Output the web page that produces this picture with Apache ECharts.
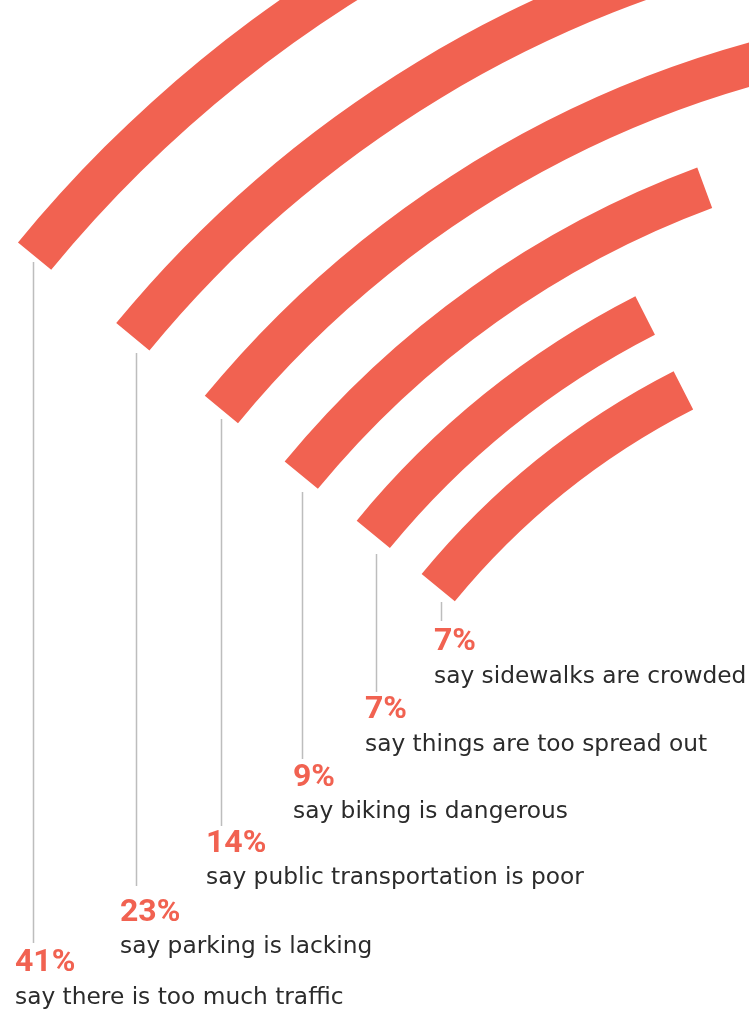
<!DOCTYPE html>
<html>
<head>
<meta charset="utf-8">
<script src="https://cdn.jsdelivr.net/npm/echarts@6/dist/echarts.min.js"></script>
<style>
  html, body { margin: 0; padding: 0; background: #fff; }
  #chart { width: 749px; height: 1011px; }
</style>
</head>
<body>
<div id="chart"></div>
<script>
// data, outer ring first
const categories = [
  'say there is too much traffic',
  'say parking is lacking',
  'say public transportation is poor',
  'say biking is dangerous',
  'say things are too spread out',
  'say sidewalks are crowded'
]
const values = [41, 23, 14, 9, 7, 7]

// layout
const RED = '#f16251'
const CENTER = [1034, 1077]
const START_ANGLE = 140.6
const ANGLE_MAX = 107
const INNER_R = 771
const RING_RATIO = 1.109
const BAND = 43

// label placement
const labelX = [15, 120, 206, 293, 365, 434]
const pctY = [963, 913, 844, 778, 710, 642]
const descY = [998, 947, 878, 812, 745, 677]
const leaderX = [33.5, 136.5, 221.5, 302.5, 376.5, 441.5]
const leaderTop = [262, 353, 419, 492, 554, 602]
const leaderBottom = [943, 886, 826, 759, 692, 621]

const n = values.length
const ringR = i => INNER_R * Math.pow(RING_RATIO, n - 1 - i)

const myChart = echarts.init(document.getElementById('chart'))

const option = {
  animation: false,
  backgroundColor: '#fff',
  polar: categories.map((c, i) => ({
    center: CENTER,
    radius: [ringR(i) - BAND / 2, ringR(i) + BAND / 2]
  })),
  angleAxis: categories.map((c, i) => ({
    polarIndex: i,
    type: 'value',
    min: 0,
    max: ANGLE_MAX,
    startAngle: START_ANGLE,
    clockwise: true,
    show: false,
    axisLine: { show: false },
    axisTick: { show: false },
    axisLabel: { show: false },
    splitLine: { show: false }
  })),
  radiusAxis: categories.map((c, i) => ({
    polarIndex: i,
    type: 'category',
    data: [c],
    show: false,
    axisLine: { show: false },
    axisTick: { show: false },
    axisLabel: { show: false },
    splitLine: { show: false }
  })),
  series: categories.map((c, i) => ({
    name: c,
    type: 'bar',
    coordinateSystem: 'polar',
    polarIndex: i,
    data: [values[i]],
    barWidth: '100%',
    silent: true,
    itemStyle: { color: RED }
  })),
  graphic: []
}

// leader lines under each bar's start, then the labels
categories.forEach((c, i) => {
  option.graphic.push({
    type: 'line',
    shape: { x1: leaderX[i], y1: leaderTop[i], x2: leaderX[i], y2: leaderBottom[i] },
    style: { stroke: '#bdbdbd', lineWidth: 1.5 }
  })
  option.graphic.push({
    type: 'text',
    x: labelX[i],
    y: pctY[i],
    style: {
      text: values[i] + '%',
      font: 'bold 32px Roboto',
      fill: RED,
      textVerticalAlign: 'middle',
      verticalAlign: 'middle'
    }
  })
  option.graphic.push({
    type: 'text',
    x: labelX[i],
    y: descY[i],
    style: {
      text: c,
      font: '23.3px "DejaVu Sans"',
      fill: '#2b2b2b',
      textVerticalAlign: 'middle',
      verticalAlign: 'middle'
    }
  })
})

myChart.setOption(option)
</script>
</body>
</html>
